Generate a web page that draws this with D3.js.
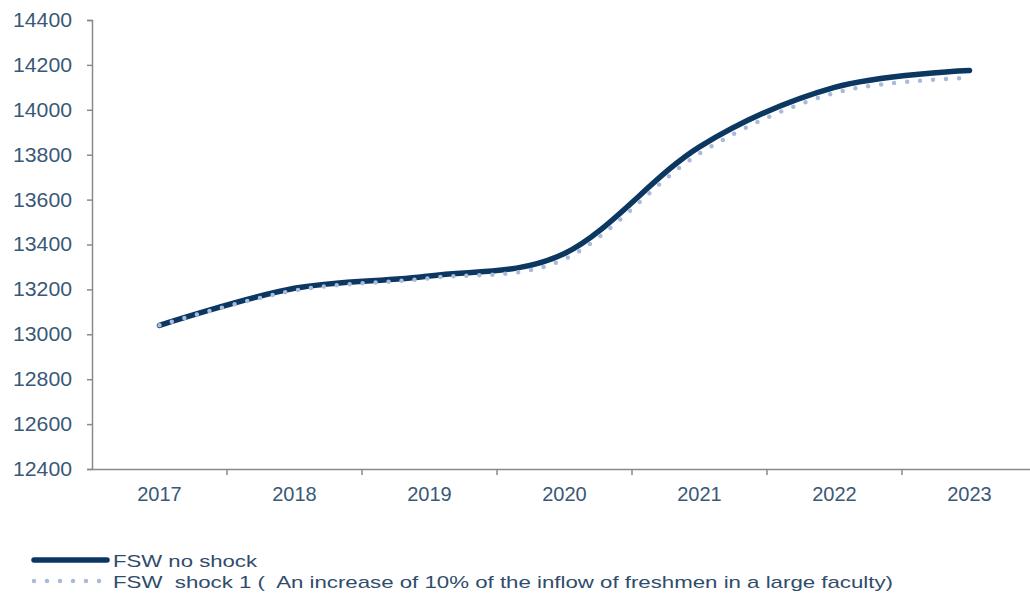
<!DOCTYPE html>
<html>
<head>
<meta charset="utf-8">
<script src="https://cdn.jsdelivr.net/npm/d3@7"></script>
<style>
  html, body { margin: 0; padding: 0; background: #ffffff; }
  svg { display: block; }
  text { font-family: "Liberation Sans", Arial, sans-serif; }
</style>
</head>
<body>
<svg id="chart" width="1030" height="595"></svg>
<script>
// Student population projection, two scenarios
const years = ["2017", "2018", "2019", "2020", "2021", "2022", "2023"];
const noShock = [13040, 13205, 13260, 13360, 13835, 14100, 14175];
const shock1 = [13040, 13195, 13250, 13335, 13805, 14075, 14142];
const yTicks = [12400, 12600, 12800, 13000, 13200, 13400, 13600, 13800, 14000, 14200, 14400];
const seriesNames = [
  "FSW no shock",
  "FSW  shock 1 (  An increase of 10% of the inflow of freshmen in a large faculty)"
];

const svg = d3.select("#chart");
const plotLeft = 92, plotRight = 1037, plotTop = 20, plotBottom = 469;
const axisColor = "#8a8a8a";
const labelColor = "#3a5877";
const legendColor = "#2f4d6b";
const navy = "#0b3760";
const lightBlue = "#a9bbdd";

const x = d3.scaleBand().domain(years).range([plotLeft, plotRight]).paddingInner(0).paddingOuter(0);
const y = d3.scaleLinear().domain([12400, 14400]).range([plotBottom, plotTop]);
const cx = d => x(d) + x.bandwidth() / 2;

// y axis
const yAxis = svg.append("g")
  .attr("transform", `translate(${plotLeft},0)`)
  .call(d3.axisLeft(y).tickValues(yTicks).tickSize(5).tickPadding(15).tickFormat(d3.format("d")));
yAxis.select(".domain").attr("stroke", axisColor).attr("stroke-width", 1.5);
yAxis.selectAll(".tick line").attr("stroke", axisColor).attr("stroke-width", 1.5);
yAxis.selectAll(".tick text").attr("fill", labelColor).attr("font-size", 20)
  .attr("font-family", "'Liberation Sans', Arial, sans-serif")
  .attr("textLength", 59).attr("lengthAdjust", "spacingAndGlyphs");

// x axis: category labels centred in each band, tick marks on band boundaries
const xAxis = svg.append("g")
  .attr("transform", `translate(0,${plotBottom})`)
  .call(d3.axisBottom(x).tickSize(0).tickPadding(18));
xAxis.select(".domain").attr("stroke", axisColor).attr("stroke-width", 1.5);
xAxis.selectAll(".tick text").attr("fill", labelColor).attr("font-size", 20)
  .attr("font-family", "'Liberation Sans', Arial, sans-serif");
xAxis.selectAll(".boundary")
  .data(years.slice(1))
  .join("line")
  .attr("class", "boundary")
  .attr("x1", d => x(d)).attr("x2", d => x(d))
  .attr("y1", 0).attr("y2", 6)
  .attr("stroke", axisColor).attr("stroke-width", 1.5);

// smoothed series lines
const line = d3.line()
  .x((d, i) => cx(years[i]))
  .y(d => y(d))
  .curve(d3.curveCatmullRom.alpha(0));

svg.append("path")
  .datum(noShock)
  .attr("d", line)
  .attr("fill", "none")
  .attr("stroke", navy)
  .attr("stroke-width", 5.5)
  .attr("stroke-linecap", "round");

svg.append("path")
  .datum(shock1)
  .attr("d", line)
  .attr("fill", "none")
  .attr("stroke", lightBlue)
  .attr("stroke-width", 4.5)
  .attr("stroke-linecap", "round")
  .attr("stroke-dasharray", "0 13");

// legend (wide, horizontally stretched lettering)
const legend = svg.append("g");
const legendRows = [
  { name: seriesNames[0], color: navy, width: 5.5, dash: null, y: 560, len: 144 },
  { name: seriesNames[1], color: lightBlue, width: 4.5, dash: "0 13", y: 581, len: 780 }
];
legendRows.forEach(r => {
  legend.append("line")
    .attr("x1", 34).attr("x2", 107)
    .attr("y1", r.y).attr("y2", r.y)
    .attr("stroke", r.color)
    .attr("stroke-width", r.width)
    .attr("stroke-linecap", "round")
    .attr("stroke-dasharray", r.dash);
  legend.append("text")
    .attr("x", 113).attr("y", r.y + 7)
    .attr("fill", legendColor)
    .attr("font-size", 17)
    .style("white-space", "pre")
    .attr("textLength", r.len)
    .attr("lengthAdjust", "spacingAndGlyphs")
    .text(r.name);
});
</script>
</body>
</html>
